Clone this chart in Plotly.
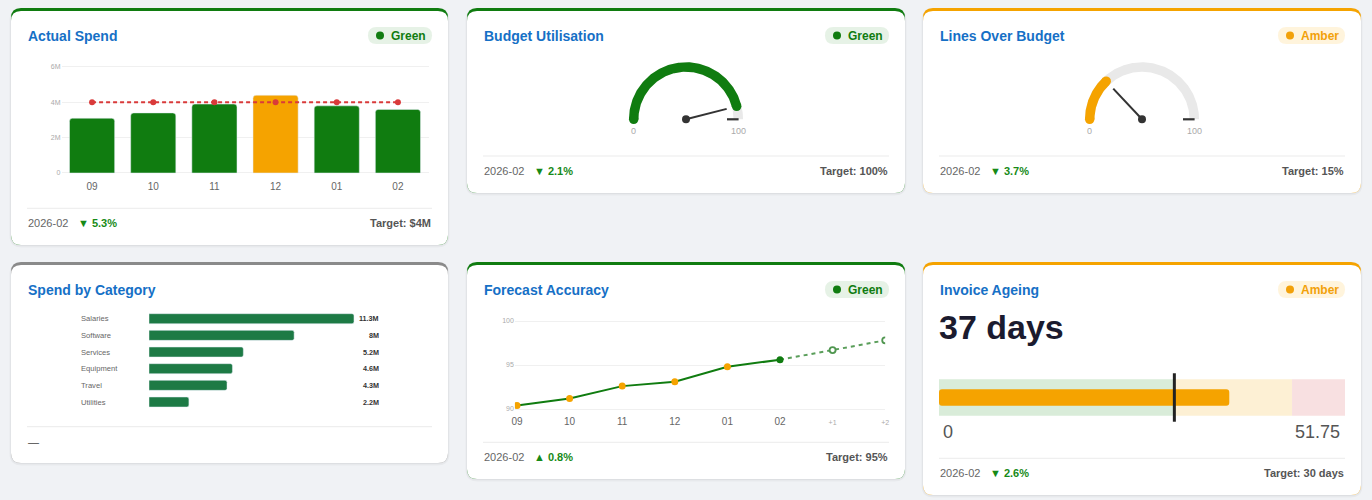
import numpy as np
import plotly.graph_objects as go

# ---------------- data ----------------
period = "2026-02"

months = ["09", "10", "11", "12", "01", "02"]
actual_spend_m = [3.1, 3.4, 3.9, 4.4, 3.8, 3.6]
spend_target_m = 4.0
spend_tickvals = [0, 2, 4, 6]
spend_ticktext = ["0", "2M", "4M", "6M"]

gauge_min, gauge_max = 0, 100
budget_util = 92
budget_util_target = "100%"
budget_util_delta = "▼ 2.1%"
lines_over_budget = 26
lines_over_target = "15%"
lines_over_delta = "▼ 3.7%"

categories = ["Salaries", "Software", "Services", "Equipment", "Travel", "Utilities"]
category_spend_m = [11.3, 8.0, 5.2, 4.6, 4.3, 2.2]

fc_months = ["09", "10", "11", "12", "01", "02"]
fc_actual = [90.4, 91.2, 92.6, 93.1, 94.8, 95.6]
fc_future_labels = ["+1", "+2"]
fc_future = [96.7, 97.8]
fc_target = 95
fc_tickvals = [90, 95, 100]

ageing_days = 37
ageing_target = 30
ageing_band_edges = [0, 30, 45, 51.75]
ageing_delta = "▼ 2.6%"

# ---------------- style ----------------
W, H = 1372, 500
FONT = "Liberation Sans, Arial, sans-serif"
GREEN = "#107c10"
AMBER = "#f5a300"
RED = "#d93a3a"
BLUE = "#1670c6"
GREY_TOP = "#8a8a8a"
PAGE = "#f0f2f5"


def px(x):
    return x / W


def py(y):
    return 1 - y / H


def dom_x(x0, x1):
    return [px(x0), px(x1)]


def dom_y(ytop, ybot):
    return [py(ybot), py(ytop)]


def rr_path(x0, y0, x1, y1, r):
    def P(x, y):
        return f"{x / W:.6f},{1 - y / H:.6f}"
    return (f"M{P(x0 + r, y0)} L{P(x1 - r, y0)} Q{P(x1, y0)} {P(x1, y0 + r)} "
            f"L{P(x1, y1 - r)} Q{P(x1, y1)} {P(x1 - r, y1)} L{P(x0 + r, y1)} "
            f"Q{P(x0, y1)} {P(x0, y1 - r)} L{P(x0, y0 + r)} Q{P(x0, y0)} {P(x0 + r, y0)} Z")


shapes = []
annotations = []

cards = [
    (11, 8, 448, 245, GREEN),
    (467, 8, 905, 193, GREEN),
    (923, 8, 1361, 193, AMBER),
    (11, 262, 448, 463, GREY_TOP),
    (467, 262, 905, 479, GREEN),
    (923, 262, 1361, 495, AMBER),
]
for (x0, y0, x1, y1, col) in cards:
    shapes.append(dict(type="path", xref="paper", yref="paper", layer="below",
                       path=rr_path(x0 - 1.5, y0 + 0.5, x1 + 1.5, y1 + 2.5, 12),
                       fillcolor="rgba(0,0,0,0.035)", line=dict(width=0)))
    shapes.append(dict(type="path", xref="paper", yref="paper", layer="below",
                       path=rr_path(x0 - 0.5, y0, x1 + 0.5, y1 + 1, 11),
                       fillcolor="rgba(0,0,0,0.04)", line=dict(width=0)))
    shapes.append(dict(type="path", xref="paper", yref="paper", layer="below",
                       path=rr_path(x0, y0, x1, y1, 10),
                       fillcolor=col, line=dict(width=0)))
    shapes.append(dict(type="path", xref="paper", yref="paper", layer="below",
                       path=rr_path(x0, y0 + 3, x1, y1, 10),
                       fillcolor="white", line=dict(width=0)))


def title(x, y, text):
    annotations.append(dict(xref="paper", yref="paper", x=px(x - 1.5), y=py(y), xanchor="left",
                            yanchor="middle", showarrow=False, text=f"<b>{text}</b>",
                            font=dict(family=FONT, size=14, color=BLUE)))


def badge(right, ytop, ybot, status):
    if status == "Green":
        bg, fg, w = "#e6f2e6", GREEN, 64
    else:
        bg, fg, w = "#fff4dc", "#f2a10a", 67
    left = right - w
    h = ybot - ytop
    shapes.append(dict(type="path", xref="paper", yref="paper", layer="below",
                       path=rr_path(left, ytop, right, ybot, h / 2),
                       fillcolor=bg, line=dict(width=0)))
    cy = (ytop + ybot) / 2
    shapes.append(dict(type="circle", xref="paper", yref="paper", layer="below",
                       x0=px(left + 8), x1=px(left + 16), y0=py(cy + 4), y1=py(cy - 4),
                       fillcolor=fg, line=dict(width=0)))
    annotations.append(dict(xref="paper", yref="paper", x=px(left + 21), y=py(cy + 0.5),
                            xanchor="left", yanchor="middle", showarrow=False,
                            text=f"<b>{status}</b>",
                            font=dict(family=FONT, size=12, color=fg)))


def footer(x0, x1, sep_y, text_y, delta=None, target=None, dash=False):
    shapes.append(dict(type="line", xref="paper", yref="paper", layer="below",
                       x0=px(x0 + 16), x1=px(x1 - 16), y0=py(sep_y), y1=py(sep_y),
                       line=dict(color="#ebebeb", width=1)))
    if dash:
        annotations.append(dict(xref="paper", yref="paper", x=px(x0 + 15), y=py(text_y),
                                xanchor="left", yanchor="middle", showarrow=False, text="—",
                                font=dict(family=FONT, size=11, color="#444")))
        return
    annotations.append(dict(xref="paper", yref="paper", x=px(x0 + 15), y=py(text_y),
                            xanchor="left", yanchor="middle", showarrow=False, text=period,
                            font=dict(family=FONT, size=11, color="#666")))
    annotations.append(dict(xref="paper", yref="paper", x=px(x0 + 65), y=py(text_y),
                            xanchor="left", yanchor="middle", showarrow=False,
                            text=f"<b>{delta}</b>",
                            font=dict(family=FONT, size=11, color="#178a17")))
    annotations.append(dict(xref="paper", yref="paper", x=px(x1 - 15), y=py(text_y),
                            xanchor="right", yanchor="middle", showarrow=False,
                            text=f"<b>Target: {target}</b>",
                            font=dict(family=FONT, size=11, color="#555")))


def pct_change(a, b):
    c = (b - a) / a * 100
    arrow = "▲" if c >= 0 else "▼"
    return f"{arrow} {abs(c):.1f}%"


fig = go.Figure()

# ---------------- card 1: Actual Spend ----------------
title(27, 36, "Actual Spend")
badge(432, 27, 44, "Green")
bar_colors = [AMBER if v > spend_target_m else GREEN for v in actual_spend_m]
fig.add_trace(go.Bar(x=months, y=actual_spend_m, marker=dict(color=bar_colors, cornerradius=3),
                     width=0.738, xaxis="x", yaxis="y", hoverinfo="skip"))
fig.add_trace(go.Scatter(x=months, y=[spend_target_m] * len(months), mode="lines+markers",
                         line=dict(color=RED, width=2, dash="4px,3px"),
                         marker=dict(color=RED, size=6), xaxis="x", yaxis="y", hoverinfo="skip"))
footer(11, 448, 208.3, 222.7, pct_change(actual_spend_m[-2], actual_spend_m[-1]),
       f"${spend_target_m:g}M")

# ---------------- gauges ----------------
R_MID, THICK, R_NEEDLE = 52.3, 9.5, 42


def gauge_angle(v):
    return np.pi * (1 - (np.asarray(v, dtype=float) - gauge_min) / (gauge_max - gauge_min))


def band_polygon(v0, v1, r_in, r_out, n=160):
    a = gauge_angle(np.linspace(v0, v1, n))
    xs = np.concatenate([r_out * np.cos(a), r_in * np.cos(a[::-1])])
    ys = np.concatenate([r_out * np.sin(a), r_in * np.sin(a[::-1])])
    return np.append(xs, xs[0]), np.append(ys, ys[0])


def add_gauge(value, color, ax, ay):
    r_in, r_out = R_MID - THICK / 2, R_MID + THICK / 2
    gx, gy = band_polygon(gauge_min, gauge_max, r_in, r_out)
    fig.add_trace(go.Scatter(x=gx, y=gy, mode="lines", fill="toself", fillcolor="#e9e9e9",
                             line=dict(width=0, color="#e9e9e9"), xaxis=ax, yaxis=ay,
                             hoverinfo="skip"))
    vx, vy = band_polygon(gauge_min, value, r_in, r_out)
    fig.add_trace(go.Scatter(x=vx, y=vy, mode="lines", fill="toself", fillcolor=color,
                             line=dict(width=0, color=color), xaxis=ax, yaxis=ay,
                             hoverinfo="skip"))
    ends = gauge_angle([gauge_min, value])
    fig.add_trace(go.Scatter(x=R_MID * np.cos(ends), y=R_MID * np.sin(ends), mode="markers",
                             marker=dict(color=color, size=THICK, line=dict(width=0)),
                             xaxis=ax, yaxis=ay, hoverinfo="skip"))
    am = gauge_angle(gauge_max)
    fig.add_trace(go.Scatter(x=[41 * np.cos(am), 52.6 * np.cos(am)],
                             y=[41 * np.sin(am), 52.6 * np.sin(am)], mode="lines",
                             line=dict(color="#333", width=2.2), xaxis=ax, yaxis=ay,
                             hoverinfo="skip"))
    av = gauge_angle(value)
    fig.add_trace(go.Scatter(x=[0, R_NEEDLE * np.cos(av)], y=[0, R_NEEDLE * np.sin(av)],
                             mode="lines", line=dict(color="#333", width=2), xaxis=ax, yaxis=ay,
                             hoverinfo="skip"))
    fig.add_trace(go.Scatter(x=[0], y=[0], mode="markers", marker=dict(color="#333", size=8),
                             xaxis=ax, yaxis=ay, hoverinfo="skip"))
    for v in (gauge_min, gauge_max):
        annotations.append(dict(xref=ax, yref=ay, x=R_MID * np.cos(gauge_angle(v)), y=-11.7,
                                xanchor="center", yanchor="middle", showarrow=False,
                                text=f"{v}", font=dict(family=FONT, size=9, color="#aaa")))


title(483, 36, "Budget Utilisation")
badge(889, 27, 44, "Green")
add_gauge(budget_util, GREEN, "x2", "y2")
footer(467, 905, 156, 171, budget_util_delta, budget_util_target)

title(939, 36, "Lines Over Budget")
badge(1345, 27, 44, "Amber")
add_gauge(lines_over_budget, AMBER, "x3", "y3")
footer(923, 1361, 156, 171, lines_over_delta, lines_over_target)

# ---------------- card 4: Spend by Category ----------------
title(27, 290, "Spend by Category")
fig.add_trace(go.Bar(y=categories, x=category_spend_m, orientation="h", width=0.6,
                     marker=dict(color="#1d7a45", cornerradius=2), xaxis="x4", yaxis="y4",
                     hoverinfo="skip"))
for c, v in zip(categories, category_spend_m):
    annotations.append(dict(xref="paper", yref="y4", x=px(79), y=c, xanchor="left",
                            yanchor="middle", showarrow=False, text=c,
                            font=dict(family=FONT, size=7.6, color="#666")))
    annotations.append(dict(xref="paper", yref="y4", x=px(381), y=c, xanchor="right",
                            yanchor="middle", showarrow=False, text=f"<b>{v:g}M</b>",
                            font=dict(family=FONT, size=7.2, color="#333")))
footer(11, 448, 426.7, 442, dash=True)

# ---------------- card 5: Forecast Accuracy ----------------
title(483, 290, "Forecast Accuracy")
badge(889, 281, 298, "Green")
fc_all_labels = fc_months + fc_future_labels
fig.add_trace(go.Scatter(x=[fc_months[-1]] + fc_future_labels, y=[fc_actual[-1]] + fc_future,
                         mode="lines", line=dict(color="#5a9e5a", width=2, dash="4px,4px"),
                         xaxis="x5", yaxis="y5", hoverinfo="skip"))
fig.add_trace(go.Scatter(x=fc_future_labels, y=fc_future, mode="markers",
                         marker=dict(color="white", size=6, line=dict(color="#4f964f", width=1.8)),
                         xaxis="x5", yaxis="y5", hoverinfo="skip"))
pt_colors = [GREEN if v >= fc_target else AMBER for v in fc_actual]
fig.add_trace(go.Scatter(x=fc_months, y=fc_actual, mode="lines+markers",
                         line=dict(color=GREEN, width=2),
                         marker=dict(color=pt_colors, size=7), xaxis="x5", yaxis="y5",
                         hoverinfo="skip"))
fc_ticktext = fc_months + [f'<span style="font-size:7px;color:#aaa">{l}</span>'
                           for l in fc_future_labels]
footer(467, 905, 442.3, 457, pct_change(fc_actual[-2], fc_actual[-1]), f"{fc_target}%")

# ---------------- card 6: Invoice Ageing ----------------
title(939, 290, "Invoice Ageing")
badge(1345, 281, 298, "Amber")
annotations.append(dict(xref="paper", yref="paper", x=px(937), y=py(327), xanchor="left",
                        yanchor="middle", showarrow=False, text=f"<b>{ageing_days} days</b>",
                        font=dict(family=FONT, size=34, color="#1b1b2f")))
band_colors = ["#d9ecd9", "#fdf0d4", "#f8e0e1"]
for b0, b1, col in zip(ageing_band_edges[:-1], ageing_band_edges[1:], band_colors):
    fig.add_trace(go.Bar(y=[0.5], x=[b1 - b0], base=[b0], orientation="h", width=1,
                         marker=dict(color=col, line=dict(width=0)), xaxis="x6", yaxis="y6",
                         hoverinfo="skip"))
fig.add_trace(go.Bar(y=[0.5], x=[ageing_days], base=[0], orientation="h", width=0.45,
                     marker=dict(color=AMBER, cornerradius=3, line=dict(width=0)),
                     xaxis="x6", yaxis="y6", hoverinfo="skip"))
fig.add_trace(go.Scatter(x=[ageing_target, ageing_target], y=[-0.165, 1.165], mode="lines",
                         line=dict(color="#222", width=3), xaxis="x6", yaxis="y6",
                         hoverinfo="skip"))
annotations.append(dict(xref="x6", yref="paper", x=ageing_band_edges[0], y=py(432),
                        xanchor="left", yanchor="middle", xshift=2, showarrow=False,
                        text=f"{ageing_band_edges[0]:g}",
                        font=dict(family=FONT, size=18, color="#555")))
annotations.append(dict(xref="x6", yref="paper", x=ageing_band_edges[-1], y=py(432),
                        xanchor="right", yanchor="middle", xshift=-3, showarrow=False,
                        text=f"{ageing_band_edges[-1]:g}",
                        font=dict(family=FONT, size=18, color="#555")))
footer(923, 1361, 458.3, 473.3, ageing_delta, f"{ageing_target} days")

# ---------------- axes ----------------
hidden = dict(visible=False, fixedrange=True, showgrid=False, zeroline=False)
px_per_m = 17.67
layout_axes = dict(
    xaxis=dict(domain=dom_x(61.5, 428.5), type="category", categoryorder="array",
               categoryarray=months, range=[-0.5, len(months) - 0.5], showgrid=False,
               zeroline=False, showline=False, ticks="", automargin=False, ticklabelstandoff=4,
               tickfont=dict(family=FONT, size=10, color="#666"), anchor="y"),
    yaxis=dict(domain=dom_y(173 - 6.3 * px_per_m, 173 + 0.1 * px_per_m), range=[-0.1, 6.3],
               tickvals=spend_tickvals, ticktext=spend_ticktext, showgrid=True,
               gridcolor="#f0f0f0", gridwidth=1, zeroline=False, showline=False, ticks="",
               automargin=False, tickfont=dict(family=FONT, size=7, color="#aaa"), anchor="x"),
    xaxis2=dict(domain=dom_x(620, 752), range=[-66, 66], anchor="y2", **hidden),
    yaxis2=dict(domain=dom_y(55, 140), range=[-20.7, 64.3], anchor="x2", **hidden),
    xaxis3=dict(domain=dom_x(1076, 1208), range=[-66, 66], anchor="y3", **hidden),
    yaxis3=dict(domain=dom_y(55, 140), range=[-20.7, 64.3], anchor="x3", **hidden),
    xaxis4=dict(domain=dom_x(149, 149 + 12 * 18.14), range=[0, 12], anchor="y4", **hidden),
    yaxis4=dict(domain=dom_y(318.7 - 8.33, 402 + 8.33), type="category",
                categoryorder="array", categoryarray=categories[::-1],
                range=[-0.5, len(categories) - 0.5], anchor="x4", **hidden),
    xaxis5=dict(domain=dom_x(514.9, 885.2), type="category", categoryorder="array",
                categoryarray=fc_all_labels, range=[-0.04, len(fc_all_labels) - 1],
                tickvals=fc_all_labels, ticktext=fc_ticktext, showgrid=False, zeroline=False,
                showline=False, ticks="", automargin=False, ticklabelstandoff=1,
                tickfont=dict(family=FONT, size=10, color="#666"), anchor="y5"),
    yaxis5=dict(domain=dom_y(321 - 0.4 * 8.8, 409 + 0.4 * 8.8), range=[89.6, 100.4],
                tickvals=fc_tickvals, showgrid=True, gridcolor="#f0f0f0", zeroline=False,
                showline=False, ticks="", automargin=False,
                tickfont=dict(family=FONT, size=7, color="#aaa"), anchor="x5"),
    xaxis6=dict(domain=dom_x(939, 1345), range=[ageing_band_edges[0], ageing_band_edges[-1]],
                anchor="y6", **hidden),
    yaxis6=dict(domain=dom_y(372, 423), range=[-0.2, 1.2], anchor="x6", **hidden),
)

fig.update_layout(
    width=W, height=H, autosize=False,
    margin=dict(l=0, r=0, t=0, b=0, pad=0, autoexpand=False),
    paper_bgcolor=PAGE, plot_bgcolor="rgba(0,0,0,0)",
    showlegend=False, barmode="overlay",
    font=dict(family=FONT),
    shapes=shapes, annotations=annotations,
    **layout_axes,
)

page_css = (
    "var s=document.createElement('style');"
    "s.textContent='html,body{margin:0;padding:0;overflow:hidden;}';"
    "document.head.appendChild(s);"
)
fig.write_html("out.html", config={"displayModeBar": False}, post_script=page_css)
